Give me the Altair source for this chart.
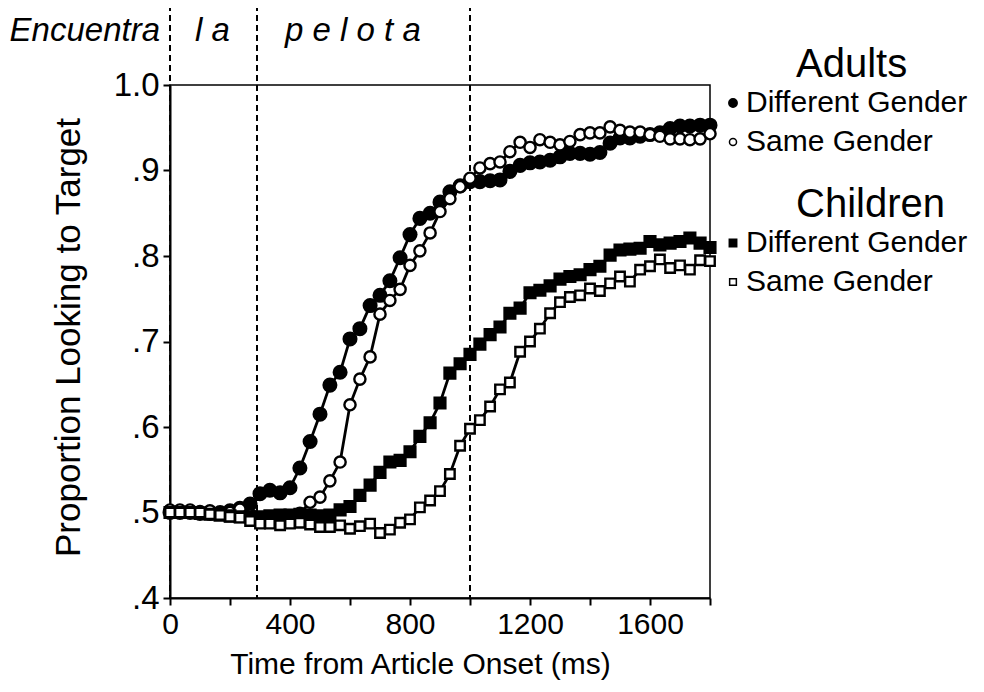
import altair as alt
import pandas as pd

# time from article onset (ms)
times = [0, 33, 67, 100, 133, 167, 200, 233, 267, 300,
         333, 367, 400, 433, 467, 500, 533, 567, 600, 633,
         667, 700, 733, 767, 800, 833, 867, 900, 933, 967,
         1000, 1033, 1067, 1100, 1133, 1167, 1200, 1233, 1267, 1300,
         1333, 1367, 1400, 1433, 1467, 1500, 1533, 1567, 1600, 1633,
         1667, 1700, 1733, 1767, 1800]

adults_diff = [.500, .500, .500, .499, .499, .500, .502, .505, .510, .522,
               .526, .523, .529, .552, .583, .615, .649, .664, .703, .715,
               .742, .754, .771, .798, .825, .844, .850, .863, .875, .882,
               .887, .887, .888, .889, .899, .906, .909, .910, .912, .916,
               .920, .920, .919, .921, .932, .938, .938, .940, .942, .944,
               .949, .952, .952, .953, .953]

adults_same = [.503, .503, .503, .501, .502, .499, .500, .504, .497, .490,
               .491, .493, .491, .499, .512, .518, .537, .559, .626, .656,
               .682, .732, .748, .761, .789, .806, .827, .852, .867, .881,
               .891, .903, .908, .910, .922, .933, .927, .936, .933, .930,
               .934, .942, .944, .944, .951, .947, .945, .945, .942, .940,
               .937, .937, .936, .937, .943]

children_diff = [.500, .500, .500, .499, .498, .497, .496, .495, .495, .495,
                 .496, .497, .497, .498, .497, .496, .497, .503, .507, .520,
                 .532, .547, .559, .561, .571, .589, .605, .628, .663, .674,
                 .685, .697, .708, .717, .733, .739, .757, .760, .765, .773,
                 .776, .778, .784, .788, .801, .807, .808, .809, .817, .813,
                 .815, .817, .821, .815, .810]

children_same = [.500, .500, .500, .500, .498, .497, .495, .494, .490, .487,
                 .487, .485, .487, .488, .486, .483, .483, .485, .481, .484,
                 .487, .476, .480, .488, .492, .506, .514, .525, .545, .578,
                 .598, .608, .624, .644, .652, .688, .700, .715, .733, .746,
                 .752, .754, .762, .759, .768, .776, .770, .784, .788, .796,
                 .786, .789, .784, .795, .794]

boundaries = [0, 290, 1000]
x_ticks = [0, 200, 400, 600, 800, 1000, 1200, 1400, 1600, 1800]
y_ticks = [0.4, 0.5, 0.6, 0.7, 0.8, 0.9, 1.0]

FONT = "Liberation Sans"

x_enc = alt.X(
    "t:Q",
    scale=alt.Scale(domain=[0, 1800], nice=False, zero=False),
    axis=alt.Axis(
        values=x_ticks,
        labelExpr="datum.value % 400 == 0 ? datum.value : ''",
        title="Time from Article Onset (ms)",
        grid=False,
        labelFontSize=30,
        titleFontSize=30,
        titleX=250,
        titlePadding=10,
        labelFlush=False,
    ),
)
y_enc = alt.Y(
    "v:Q",
    scale=alt.Scale(domain=[0.4, 1.0], nice=False, zero=False),
    axis=alt.Axis(
        values=y_ticks,
        labelExpr="datum.value >= 1 ? '1.0' : substring(format(datum.value, '.1f'), 1)",
        title="Proportion Looking to Target",
        grid=False,
        labelFontSize=33,
        titleFontSize=35,
        titleX=-84,
        titleY=252,
        labelFlush=False,
    ),
)


def series_layers(vals, shape, filled, size):
    df = pd.DataFrame({"t": times, "v": vals})
    line = alt.Chart(df).mark_line(color="black", strokeWidth=2.8).encode(x=x_enc, y=y_enc)
    pts = alt.Chart(df).mark_point(
        shape=shape,
        filled=True,
        fill="black" if filled else "white",
        stroke="black",
        strokeWidth=2.4,
        size=size,
        opacity=1,
    ).encode(x=x_enc, y=y_enc)
    return [line, pts]


layers = []
layers += series_layers(adults_diff, "circle", True, 160)
layers += series_layers(adults_same, "circle", False, 125)
layers += series_layers(children_diff, "square", True, 115)
layers += series_layers(children_same, "square", False, 90)

rules = alt.Chart(pd.DataFrame({"t": boundaries})).mark_rule(
    color="black", strokeWidth=2, strokeDash=[6, 4]
).encode(x=x_enc, y=alt.value(-80), y2=alt.value(513))


def txt(s, x, y, size, align="left", italic=False):
    return alt.Chart(pd.DataFrame({"a": [0]})).mark_text(
        text=s, font=FONT, fontSize=size, align=align, baseline="middle",
        fontStyle="italic" if italic else "normal", color="black",
    ).encode(x=alt.value(x), y=alt.value(y))


def sym(x, y, shape, filled, size):
    return alt.Chart(pd.DataFrame({"a": [0]})).mark_point(
        shape=shape, filled=True, fill="black" if filled else "white",
        stroke="black", strokeWidth=1.5, size=size, opacity=1,
    ).encode(x=alt.value(x), y=alt.value(y))


annot = [
    txt("Encuentra", -10, -54, 33, align="right", italic=True),
    txt("l a", 25, -54, 33, italic=True),
    txt("p e l o t a", 115, -54, 33, italic=True),
    txt("Adults", 626, -20, 40),
    sym(563, 18, "circle", True, 70),
    txt("Different Gender", 576, 18, 30),
    sym(563, 57, "circle", False, 50),
    txt("Same Gender", 576, 57, 30),
    txt("Children", 626, 120, 40),
    sym(563, 158, "square", True, 55),
    txt("Different Gender", 576, 158, 30),
    sym(563, 197, "square", False, 45),
    txt("Same Gender", 576, 197, 30),
]

chart = alt.layer(rules, *layers, *annot).properties(
    width=540,
    height=513,
    autosize=alt.AutoSizeParams(type="none"),
    padding={"left": 162, "top": 77, "right": 266, "bottom": 86},
).configure_view(
    stroke="black", strokeWidth=1.5
).configure_axis(
    labelFont=FONT, titleFont=FONT,
    titleFontWeight="normal", labelColor="black", titleColor="black",
    domainColor="black", tickColor="black", domainWidth=2, tickWidth=2,
    tickSize=7, labelPadding=4,
)

chart.save("out.html", embed_options={"renderer": "svg", "actions": False})
